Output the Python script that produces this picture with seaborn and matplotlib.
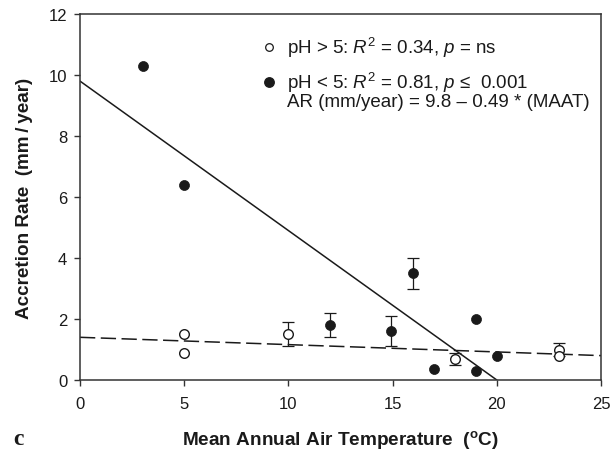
import numpy as np
import pandas as pd
import matplotlib
matplotlib.use("Agg")
import matplotlib.pyplot as plt
from matplotlib.lines import Line2D
import seaborn as sns

# ---- data ----
open_x = [5, 5, 10, 18, 23, 23]
open_y = [1.5, 0.9, 1.5, 0.7, 1.0, 0.8]
open_err = [0, 0, 0.4, 0.2, 0.2, 0]

filled_x = [3, 5, 12, 14.9, 16, 17, 19, 19, 20]
filled_y = [10.3, 6.4, 1.8, 1.6, 3.5, 0.35, 2.0, 0.3, 0.8]
filled_err = [0, 0, 0.4, 0.5, 0.5, 0, 0, 0, 0]

# regression lines: intercept, slope, x-range
solid_coef = (9.8, -0.49)
solid_range = [0, 20]
dashed_coef = (1.4, -0.024)
dashed_range = [0, 25]

x_ticks = [0, 5, 10, 15, 20, 25]
y_ticks = [0, 2, 4, 6, 8, 10, 12]

sns.set_theme(style="ticks")
plt.rcParams['font.family'] = ['Liberation Sans', 'DejaVu Sans']
plt.rcParams['mathtext.fontset'] = 'custom'
plt.rcParams['mathtext.rm'] = 'Liberation Sans'
plt.rcParams['mathtext.it'] = 'Liberation Sans:italic'
plt.rcParams['mathtext.bf'] = 'Liberation Sans:bold'

W, H = 613, 456
fig = plt.figure(figsize=(W / 100, H / 100), dpi=100)
L, R, T, B = 80, 601, 15, 381
ax = fig.add_axes([L / W, 1 - B / H, (R - L) / W, (B - T) / H])

ink = '#1a1a1a'
spine = '#333333'

# lines
sx = np.array(solid_range, dtype=float)
dx = np.array(dashed_range, dtype=float)
lines_df = pd.DataFrame({
    'x': np.concatenate([sx, dx]),
    'y': np.concatenate([solid_coef[0] + solid_coef[1] * sx,
                         dashed_coef[0] + dashed_coef[1] * dx]),
    'fit': ['pH<5'] * 2 + ['pH>5'] * 2,
})
sns.lineplot(data=lines_df[lines_df.fit == 'pH<5'], x='x', y='y', ax=ax,
             color=ink, lw=1.1, legend=False)
sns.lineplot(data=lines_df[lines_df.fit == 'pH>5'], x='x', y='y', ax=ax,
             color=ink, lw=1.1, dashes=False, legend=False)
ax.lines[-1].set_dashes((10, 3.6))

# error bars
for xs, ys, es in [(open_x, open_y, open_err), (filled_x, filled_y, filled_err)]:
    xs, ys, es = np.array(xs), np.array(ys), np.array(es)
    m = es > 0
    ax.errorbar(xs[m], ys[m], yerr=es[m], fmt='none', ecolor=ink,
                elinewidth=0.9, capsize=4.3, capthick=0.9, zorder=2)

pts = pd.DataFrame({
    'x': open_x + filled_x,
    'y': open_y + filled_y,
    'grp': ['open'] * len(open_x) + ['filled'] * len(filled_x),
})
sns.scatterplot(data=pts[pts.grp == 'open'], x='x', y='y', ax=ax, s=48,
                facecolor='white', edgecolor=ink, linewidth=1.0, zorder=3,
                legend=False)
sns.scatterplot(data=pts[pts.grp == 'filled'], x='x', y='y', ax=ax, s=52,
                color=ink, edgecolor=ink, linewidth=0.5, zorder=3,
                legend=False)

ax.set_xlim(0, 25)
ax.set_ylim(0, 12)
ax.set_xticks(x_ticks)
ax.set_yticks(y_ticks)
ax.tick_params(axis='both', direction='out', length=4.2, width=1.0,
               color=spine, labelsize=12, labelcolor=ink)
ax.tick_params(axis='x', pad=7.5)
ax.tick_params(axis='y', pad=5)
for s in ax.spines.values():
    s.set_visible(True)
    s.set_color(spine)
    s.set_linewidth(1.1)

ax.set_xlabel('Mean Annual Air Temperature  ($^{\\mathbf{o}}$C)',
              fontsize=13.7, fontweight='bold', color=ink)
ax.set_ylabel('Accretion Rate  (mm\u2009/\u2009year)', fontsize=13.6,
              fontweight='bold', color=ink)
ax.xaxis.set_label_coords(0.5, (B - 429) / (B - T))
ax.yaxis.set_label_coords((33 - L) / (R - L), 0.5)

fig.text(13 / W, 1 - 440 / H, 'c', fontsize=17, fontweight='bold',
         family='Liberation Serif', color=ink, va='center', ha='left')

handles = [
    Line2D([], [], ls='none', marker='o', ms=5.5, mfc='white', mec=ink, mew=0.9),
    Line2D([], [], ls='none', marker='o', ms=6.8, mfc=ink, mec=ink),
]
labels = ['pH > 5: $R^2$ = 0.34, $p$ = ns',
          'pH < 5: $R^2$ = 0.81, $p$ \u2264  0.001']
leg = ax.legend(handles, labels, loc='upper left', frameon=False,
                bbox_to_anchor=((262.5 - L) / (R - L), (B - 36) / (B - T)),
                fontsize=13.5, handlelength=0.7, handletextpad=0.6,
                labelspacing=0.6, borderpad=0, borderaxespad=0)
for t in leg.get_texts():
    t.set_color(ink)
ax.text((287 - L) / (R - L), (B - 103) / (B - T),
        'AR (mm/year) = 9.8 \u2013 0.49 * (MAAT)', transform=ax.transAxes,
        fontsize=13.5, color=ink, ha='left', va='center')

fig.savefig('out.png', dpi=100)
